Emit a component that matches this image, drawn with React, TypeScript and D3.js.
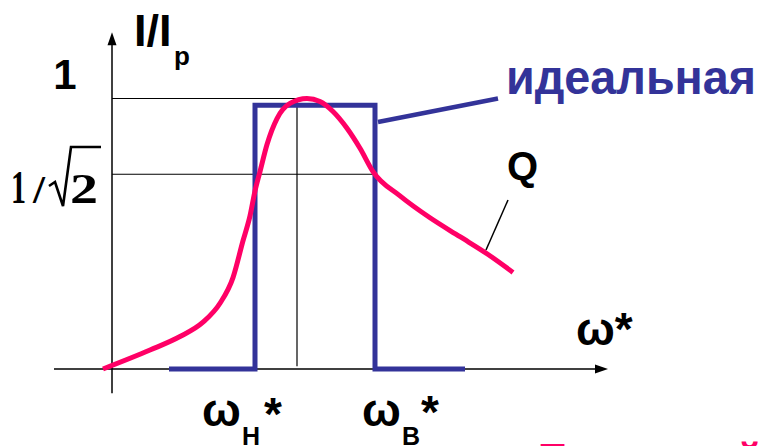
import React from "react";
import * as d3 from "d3";

const W = 761;
const H = 446;

// ω* in relative units (0 at the I/Ip axis), response I/Ip — real filter (Q)
const freq = [-1.8, 7.6, 13.6, 18.2, 21.6, 24.2, 26.2, 27.6, 28.6, 29.6, 31, 33, 35.6, 39, 41.6, 44.2, 47, 49.6, 52.2, 57.6, 63.6, 69.6, 75, 80.2];
const response = [0, 0.07, 0.12, 0.173, 0.243, 0.338, 0.474, 0.566, 0.658, 0.73, 0.83, 0.926, 0.982, 1.0, 0.989, 0.952, 0.89, 0.816, 0.73, 0.64, 0.559, 0.489, 0.426, 0.357];

// ideal band-pass ("идеальная")
const idealFreq = [11.4, 28.6, 28.6, 52.6, 52.6, 70.6];
const idealLevel = [0, 0, 0.975, 0.975, 0, 0];

const omegaLow = 28.6;
const omegaHigh = 52.6;
const omegaPeak = 37;
const levels = [1, 0.72]; // 1 and 1/√2

const BLUE = "#333399";
const PINK = "#ff0066";
const SANS = "'Liberation Sans', Arial, sans-serif";
const SERIF = "'Liberation Serif', 'Times New Roman', serif";

export default function App() {
  const x = d3.scaleLinear().domain([0, 100]).range([112, 612]);
  const y = d3.scaleLinear().domain([0, 1]).range([369, 98.5]);

  const curve = d3
    .line<number>()
    .x((_, i) => x(freq[i]))
    .y((d) => y(d))
    .curve(d3.curveMonotoneX);

  const ideal = d3
    .line<number>()
    .x((_, i) => x(idealFreq[i]))
    .y((d) => y(d));

  const xa0 = x(-11.6), xa1 = x(99.2);
  const ya0 = y(-0.09), ya1 = y(1.245);

  return (
    <svg width={W} height={H} style={{ position: "absolute", left: 0, top: 0, background: "#fff" }}>
      {/* guide lines */}
      <line x1={x(0)} x2={x(omegaPeak)} y1={y(levels[0])} y2={y(levels[0])} stroke="#000" strokeWidth={1.2} />
      <line x1={x(0)} x2={x(omegaHigh)} y1={y(levels[1])} y2={y(levels[1])} stroke="#000" strokeWidth={1.2} />
      <line x1={x(omegaPeak)} x2={x(omegaPeak)} y1={y(levels[0])} y2={y(0.01)} stroke="#000" strokeWidth={1.2} />

      {/* axes */}
      <line x1={xa0} x2={xa1 - 8} y1={y(0)} y2={y(0)} stroke="#000" strokeWidth={1.5} />
      <path d={`M${xa1},${y(0)} L${xa1 - 13},${y(0) - 4.5} L${xa1 - 13},${y(0) + 4.5} Z`} fill="#000" />
      <line x1={x(0)} x2={x(0)} y1={ya0} y2={ya1 + 8} stroke="#000" strokeWidth={1.5} />
      <path d={`M${x(0)},${ya1} L${x(0) - 4.5},${ya1 + 13} L${x(0) + 4.5},${ya1 + 13} Z`} fill="#000" />

      {/* ideal characteristic */}
      <path d={ideal(idealLevel) ?? ""} fill="none" stroke={BLUE} strokeWidth={5} strokeLinejoin="miter" />
      {/* real characteristic */}
      <path d={curve(response) ?? ""} fill="none" stroke={PINK} strokeWidth={5} />

      {/* leaders */}
      <line x1={x(53.2)} y1={y(0.913)} x2={x(77.2)} y2={y(1.0)} stroke={BLUE} strokeWidth={4.5} />
      <line x1={x(79.2)} y1={y(0.625)} x2={x(74.8)} y2={y(0.44)} stroke="#000" strokeWidth={1.5} />

      {/* texts */}
      <g fontFamily={SANS} fontWeight="bold" fill="#000">
        <text x={134} y={46} fontSize={45}>I/I</text>
        <text x={174} y={65} fontSize={26}>p</text>
        <text x={65} y={89} fontSize={42} textAnchor="middle">1</text>
        <text x={506} y={94} fontSize={48} fill={BLUE} textLength={250} lengthAdjust="spacingAndGlyphs">идеальная</text>
        <text x={507} y={180} fontSize={40}>Q</text>

        <text x={576} y={345} fontSize={46}>ω*</text>

        <text x={x(omegaLow) - 53} y={426} fontSize={46}>ω</text>
        <text x={x(omegaLow) - 13} y={445} fontSize={25}>H</text>
        <text x={x(omegaLow) + 9} y={430} fontSize={46}>*</text>

        <text x={x(omegaHigh) - 13} y={426} fontSize={46}>ω</text>
        <text x={x(omegaHigh) + 27} y={445} fontSize={25}>B</text>
        <text x={x(omegaHigh) + 46} y={428} fontSize={46}>*</text>

        <text x={538} y={472} fontSize={40} fill={PINK} textLength={224} lengthAdjust="spacingAndGlyphs">Полосовой</text>
      </g>

      {/* 1 / √2 */}
      <g fontFamily={SERIF} fontWeight="bold" fill="#000">
        <text x={11} y={203} fontSize={46} textLength={15} lengthAdjust="spacingAndGlyphs">1</text>
        <text x={33} y={203} fontSize={40} textLength={12} lengthAdjust="spacingAndGlyphs">/</text>
        <text x={70} y={203} fontSize={42} textLength={28} lengthAdjust="spacingAndGlyphs">2</text>
      </g>
      <path d="M49,186 L55,182 L63,206 L71,147 L101,147" fill="none" stroke="#000" strokeWidth={2.6} strokeLinejoin="miter" />
    </svg>
  );
}
